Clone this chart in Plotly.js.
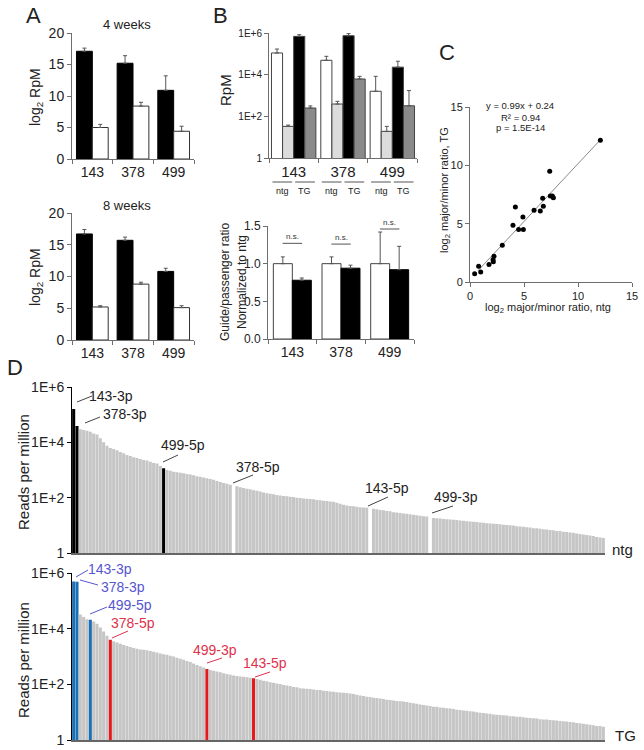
<!DOCTYPE html>
<html><head><meta charset="utf-8">
<script src="https://cdn.plot.ly/plotly-3.0.1.min.js"></script>
<style>body{margin:0;background:#fff}#chart{width:644px;height:750px}</style>
</head><body><div id="chart"></div>
<script>
// ---------- Panel A ----------
const genes = ['143', '378', '499'];
const a4Guide = [17.1, 15.2, 10.9];
const a4GuideErr = [0.5, 1.2, 2.3];
const a4Pass = [5.0, 8.4, 4.4];
const a4PassErr = [0.5, 0.6, 0.8];
const a8Guide = [16.7, 15.7, 10.8];
const a8GuideErr = [0.7, 0.5, 0.5];
const a8Pass = [5.2, 8.8, 5.1];
const a8PassErr = [0.2, 0.3, 0.3];

// ---------- Panel B (top) ----------
const bNtgGuide = [1.1e5, 4.9e4, 1.6e3];
const bNtgGuideErr = [6e4, 2.7e4, 6.7e3];
const bNtgPass = [33, 390, 19];
const bNtgPassErr = [5, 135, 14];
const bTgGuide = [6.9e5, 7.4e5, 2.3e4];
const bTgGuideErr = [1.4e5, 1.9e5, 2.1e4];
const bTgPass = [250, 6.2e3, 320];
const bTgPassErr = [66, 2.1e3, 1.4e3];

// ---------- Panel B (bottom) ----------
const ratioNtg = [1.0, 1.0, 1.0];
const ratioNtgErr = [0.09, 0.09, 0.42];
const ratioTg = [0.78, 0.94, 0.92];
const ratioTgErr = [0.03, 0.04, 0.31];
const nsY = [1.27, 1.26, 1.46];

// ---------- Panel C ----------
const cNtg = [0.43, 0.80, 0.99, 1.76, 2.13, 2.22, 2.16, 2.99, 3.98, 4.20, 4.50, 4.90, 4.94, 5.93, 6.51, 6.73, 6.79, 7.38, 7.44, 7.62, 7.72, 12.07];
const cTg  = [0.71, 1.34, 0.86, 1.51, 1.91, 2.20, 1.74, 3.14, 4.86, 6.43, 4.49, 5.57, 4.49, 6.14, 6.09, 7.17, 6.49, 9.49, 7.37, 7.37, 7.23, 12.14];
const fitSlope = 0.99, fitIntercept = 0.24;
const fitX = [0.74, 12.07];
const fitText = ['y = 0.99x + 0.24', 'R² = 0.94', 'p = 1.5E-14'];

// ---------- Panel D ----------
const dNtg = [1.6e5,3.9e4,3.0e4,2.8e4,2.6e4,2.4e4,2.1e4,1.9e4,1.4e4,1.0e4,
7600,6300,5800,5200,4500,4000,3500,3200,2900,2700,
2500,2300,2200,2000,1800,1700,1400,1150,1000,930,
870,830,790,760,720,690,650,600,575,540,
500,470,440,400,370,340,320,290,270,260,
240,225,210,200,186,178,166,155,145,138,
132,126,120,115,112,107,105,100,98,93,
91,89,87,83,81,78,76,72,71,66,
60,55,52,50,49,47,45,44,43,42,
40,38,36,35,33,32,30,29,28,27,
26,25,24,23,22.4,21.4,20.9,20,18.6,18.2,
17.8,17,16.6,16.2,15.8,15.5,15.1,14.5,14.1,13.8,
13.5,13.2,12.6,12.3,12.0,11.7,11.5,11.2,11.0,10.5,
10.2,10.0,9.8,9.3,9.1,8.9,8.5,8.3,7.9,7.8,
7.6,7.2,7.1,6.8,6.6,6.3,6.2,5.9,5.8,5.5,
5.4,5.1,4.9,4.7,4.5,4.3,4.1,3.8,3.6,3.5];
const dTg = [5.0e5,4.8e5,3.2e4,2.6e4,2.2e4,2.1e4,1.8e4,1.5e4,1.1e4,7900,
5600,4000,3500,3200,2900,2600,2400,2200,2000,1900,
1800,1740,1660,1580,1480,1380,1290,1200,1150,1070,
1000,910,830,760,690,630,560,500,450,400,
355,330,310,290,270,250,234,219,209,200,
190,186,178,174,166,155,145,135,129,120,
115,107,102,95,91,87,81,78,72,71,
69,68,65,63,62,59,58,55,54,52,
51,50,49,47,45,42,40,38,36,35,
33,32,31,30,28,27.5,26.3,25,24.5,24,
23,21.9,20.9,20,19,18.2,17.4,16.6,15.8,15.5,
14.8,14.5,13.8,13.5,12.9,12.3,12.0,11.5,11.2,10.7,
10.5,10.0,9.5,9.3,8.9,8.7,8.3,8.1,7.9,7.8,
7.6,7.2,7.1,6.9,6.8,6.5,6.3,6.2,6.0,5.9,
5.6,5.5,5.4,5.2,5.1,5.0,4.8,4.7,4.6,4.4,
4.3,4.1,4.0,3.8,3.7,3.5,3.4,3.2,3.2,3.0];
const ntgBlackIdx = [0, 1, 27];
const ntgWhiteIdx = [48, 89, 107];
const tgBlueIdx = [0, 1, 5];
const tgRedIdx = [11, 40, 54];
const ntgLabels = ['143-3p', '378-3p', '499-5p', '378-5p', '143-5p', '499-3p'];
const tgBlueLabels = ['143-3p', '378-3p', '499-5p'];
const tgRedLabels = ['378-5p', '499-3p', '143-5p'];

// ---------- helpers ----------
const W = 644, H = 750;
const FONT = 'Liberation Sans, Arial, sans-serif';
const px = v => v / W;
const py = v => 1 - v / H;
const idx = arr => arr.map((_, i) => i);

function errUp(arr) { return {type: 'data', symmetric: false, array: arr, arrayminus: arr.map(() => 0), color: '#555', thickness: 1, width: 2}; }

const traces = [];
// A top
traces.push({type: 'bar', x: genes, y: a4Guide, xaxis: 'x', yaxis: 'y', width: 0.39, offset: -0.39,
  marker: {color: '#000', line: {color: '#000', width: 1}}, error_y: errUp(a4GuideErr)});
traces.push({type: 'bar', x: genes, y: a4Pass, xaxis: 'x', yaxis: 'y', width: 0.39, offset: 0,
  marker: {color: '#fff', line: {color: '#333', width: 1}}, error_y: errUp(a4PassErr)});
// A bottom
traces.push({type: 'bar', x: genes, y: a8Guide, xaxis: 'x2', yaxis: 'y2', width: 0.39, offset: -0.39,
  marker: {color: '#000', line: {color: '#000', width: 1}}, error_y: errUp(a8GuideErr)});
traces.push({type: 'bar', x: genes, y: a8Pass, xaxis: 'x2', yaxis: 'y2', width: 0.39, offset: 0,
  marker: {color: '#fff', line: {color: '#333', width: 1}}, error_y: errUp(a8PassErr)});
// B top
const bSeries = [[bNtgGuide, bNtgGuideErr, '#ffffff'], [bNtgPass, bNtgPassErr, '#dcdcdc'], [bTgGuide, bTgGuideErr, '#000000'], [bTgPass, bTgPassErr, '#8a8a8a']];
bSeries.forEach((s, k) => {
  traces.push({type: 'bar', x: genes, y: s[0], xaxis: 'x3', yaxis: 'y3', width: 0.225, offset: -0.45 + 0.225 * k,
    marker: {color: s[2], line: {color: '#444', width: 1}}, error_y: errUp(s[1])});
});
// B bottom
traces.push({type: 'bar', x: genes, y: ratioNtg, xaxis: 'x4', yaxis: 'y4', width: 0.39, offset: -0.39,
  marker: {color: '#fff', line: {color: '#444', width: 1}}, error_y: errUp(ratioNtgErr)});
traces.push({type: 'bar', x: genes, y: ratioTg, xaxis: 'x4', yaxis: 'y4', width: 0.39, offset: 0,
  marker: {color: '#000', line: {color: '#000', width: 1}}, error_y: errUp(ratioTgErr)});
// C
traces.push({type: 'scatter', mode: 'lines', x: fitX, y: fitX.map(v => fitSlope * v + fitIntercept), xaxis: 'x5', yaxis: 'y5',
  line: {color: '#8a8a8a', width: 1}});
traces.push({type: 'scatter', mode: 'markers', x: cNtg, y: cTg, xaxis: 'x5', yaxis: 'y5',
  marker: {color: '#000', size: 5}});
// D
const ntgColors = dNtg.map((_, i) => ntgBlackIdx.includes(i) ? '#000' : (ntgWhiteIdx.includes(i) ? '#fff' : '#c6c6c6'));
const tgColors = dTg.map((_, i) => tgBlueIdx.includes(i) ? '#1b6fb3' : (tgRedIdx.includes(i) ? '#e3191c' : '#c6c6c6'));
traces.push({type: 'bar', x: idx(dNtg), y: dNtg, xaxis: 'x6', yaxis: 'y6', width: 0.92, offset: -0.46,
  marker: {color: ntgColors, line: {width: 0}}});
traces.push({type: 'bar', x: idx(dTg), y: dTg, xaxis: 'x7', yaxis: 'y7', width: 0.92, offset: -0.46,
  marker: {color: tgColors, line: {width: 0}}});

const axBase = {showgrid: false, zeroline: false, showline: true, linecolor: '#6e6e6e', linewidth: 1,
  ticks: 'outside', ticklen: 4, tickcolor: '#6e6e6e', tickfont: {family: FONT, size: 14, color: '#222'}, fixedrange: true};
const catAx = (dom, anchor, size) => Object.assign({}, axBase, {type: 'category', domain: dom, anchor: anchor,
  range: [-0.5, 2.5], tickson: 'boundaries', tickfont: {family: FONT, size: size, color: '#222'}});

const layout = {
  width: W, height: H, margin: {l: 0, r: 0, t: 0, b: 0}, showlegend: false,
  paper_bgcolor: '#fff', plot_bgcolor: 'rgba(0,0,0,0)', barmode: 'overlay',
  font: {family: FONT, color: '#222'},
  xaxis: catAx([px(72), px(194)], 'y', 14),
  yaxis: Object.assign({}, axBase, {domain: [py(159), py(33)], anchor: 'x', range: [0, 20], dtick: 5}),
  xaxis2: catAx([px(72), px(194)], 'y2', 14),
  yaxis2: Object.assign({}, axBase, {domain: [py(340), py(213)], anchor: 'x2', range: [0, 20], dtick: 5}),
  xaxis3: catAx([px(269), px(417)], 'y3', 15),
  yaxis3: Object.assign({}, axBase, {domain: [py(158), py(33)], anchor: 'x3', type: 'log', range: [0, 6],
    tickvals: [1, 100, 1e4, 1e6], ticktext: ['1', '1E+2', '1E+4', '1E+6'], tickfont: {family: FONT, size: 10, color: '#222'}}),
  xaxis4: catAx([px(268), px(414)], 'y4', 14),
  yaxis4: Object.assign({}, axBase, {domain: [py(339), py(226)], anchor: 'x4', range: [0, 1.5], dtick: 0.5, tickformat: '.1f',
    tickfont: {family: FONT, size: 12, color: '#222'}}),
  xaxis5: Object.assign({}, axBase, {domain: [px(470), px(632)], anchor: 'y5', range: [0, 15], dtick: 5, tickfont: {family: FONT, size: 11, color: '#222'}}),
  yaxis5: Object.assign({}, axBase, {domain: [py(282), py(107)], anchor: 'x5', range: [0, 15], dtick: 5, tickfont: {family: FONT, size: 11, color: '#222'}}),
  xaxis6: Object.assign({}, axBase, {domain: [px(72), px(605)], anchor: 'y6', range: [-0.5, 159.5], ticks: '', showticklabels: false, linewidth: 2, linecolor: '#666'}),
  yaxis6: Object.assign({}, axBase, {domain: [py(553), py(387)], anchor: 'x6', type: 'log', range: [0, 6], linecolor: '#000', tickcolor: '#000',
    tickvals: [1, 100, 1e4, 1e6], ticktext: ['1', '1E+2', '1E+4', '1E+6']}),
  xaxis7: Object.assign({}, axBase, {domain: [px(72), px(605)], anchor: 'y7', range: [-0.5, 159.5], ticks: '', showticklabels: false, linewidth: 2, linecolor: '#666'}),
  yaxis7: Object.assign({}, axBase, {domain: [py(740), py(573)], anchor: 'x7', type: 'log', range: [0, 6], linecolor: '#000', tickcolor: '#000',
    tickvals: [1, 100, 1e4, 1e6], ticktext: ['1', '1E+2', '1E+4', '1E+6']}),
  annotations: [], shapes: []
};

function txt(t, x, y, size, opts) {
  layout.annotations.push(Object.assign({text: t, x: px(x), y: py(y), xref: 'paper', yref: 'paper', showarrow: false,
    xanchor: 'center', yanchor: 'middle', font: {family: FONT, size: size, color: '#222'}}, opts || {}));
}
function seg(x0, y0, x1, y1, color) {
  layout.shapes.push({type: 'line', xref: 'paper', yref: 'paper', x0: px(x0), y0: py(y0), x1: px(x1), y1: py(y1), line: {color: color, width: 1}});
}

// panel letters
txt('A', 33, 15, 22); txt('B', 220, 16, 22); txt('C', 447, 52, 22); txt('D', 15, 367, 22);
// A titles
txt('4 weeks', 127, 24, 13); txt('8 weeks', 127, 205, 13);
txt('log<sub>2</sub> RpM', 36, 97, 14, {textangle: -90});
txt('log<sub>2</sub> RpM', 36, 277, 14, {textangle: -90});
// B titles
txt('RpM', 225, 90, 15, {textangle: -90});
txt('Guide/passenger ratio', 225, 282, 12, {textangle: -90});
txt('Normalized to ntg', 242, 282, 12, {textangle: -90});
// B top sublabels
genes.forEach((g, i) => {
  layout.annotations.push({text: 'ntg', x: i - 0.225, y: py(191), xref: 'x3', yref: 'paper', yanchor: 'middle', showarrow: false, font: {family: FONT, size: 9, color: '#222'}});
  layout.annotations.push({text: 'TG', x: i + 0.225, y: py(191), xref: 'x3', yref: 'paper', yanchor: 'middle', showarrow: false, font: {family: FONT, size: 9, color: '#222'}});
  layout.shapes.push({type: 'line', xref: 'x3', yref: 'paper', x0: i - 0.43, x1: i - 0.03, y0: py(182), y1: py(182), line: {color: '#555', width: 1}});
  layout.shapes.push({type: 'line', xref: 'x3', yref: 'paper', x0: i + 0.03, x1: i + 0.43, y0: py(182), y1: py(182), line: {color: '#555', width: 1}});
  // n.s.
  layout.shapes.push({type: 'line', xref: 'x4', yref: 'y4', x0: i - 0.2, x1: i + 0.2, y0: nsY[i], y1: nsY[i], line: {color: '#555', width: 1}});
  layout.annotations.push({text: 'n.s.', x: i, y: nsY[i], xref: 'x4', yref: 'y4', yanchor: 'bottom', yshift: 0, showarrow: false, font: {family: FONT, size: 8, color: '#333'}});
});
// C titles
txt('log<sub>2</sub> major/minor ratio, TG', 445, 190, 11, {textangle: -90});
txt('log<sub>2</sub> major/minor ratio, ntg', 548, 308, 11);
fitText.forEach((t, i) => txt(t, 520, 106 + 11 * i, 9.5));
// D titles
txt('Reads per million', 23, 472, 15, {textangle: -90});
txt('Reads per million', 23, 660, 15, {textangle: -90});
txt('ntg', 622, 549, 15);
txt('TG', 625, 735, 15);
// D ntg labels
const ntgLab = [[111, 396, 77, 402, 92, 396], [125, 414, 85, 423, 100, 417], [183, 445, 163, 462, 178, 455],
  [258, 467, 233, 483, 253, 475], [387, 488, 368, 506, 388, 497], [456, 497, 432, 513, 453, 506]];
ntgLabels.forEach((t, i) => { const p = ntgLab[i]; txt(t, p[0], p[1], 14); seg(p[2], p[3], p[4], p[5], '#444'); });
const blueLab = [[110, 569, 76, 577, 88, 570], [123, 587, 80, 580, 98, 585], [130, 605, 90, 614, 107, 607]];
tgBlueLabels.forEach((t, i) => { const p = blueLab[i]; txt(t, p[0], p[1], 14, {font: {family: FONT, size: 14, color: '#5656cf'}}); seg(p[2], p[3], p[4], p[5], '#5656cf'); });
const redLab = [[133, 623, 112, 638, 128, 631], [215, 650, 207, 663, 222, 658], [265, 663, 255, 677, 270, 672]];
tgRedLabels.forEach((t, i) => { const p = redLab[i]; txt(t, p[0], p[1], 14, {font: {family: FONT, size: 14, color: '#e0314b'}}); seg(p[2], p[3], p[4], p[5], '#e0314b'); });

Plotly.newPlot('chart', traces, layout, {staticPlot: true, displayModeBar: false});
</script>
</body></html>
